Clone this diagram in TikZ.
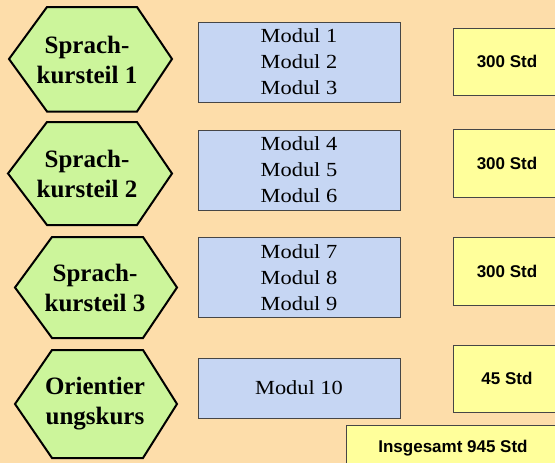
\documentclass[tikz,border=0pt]{standalone}
\usepackage{fontspec}
\setmainfont{Liberation Serif}
\newfontfamily\modfont[FakeStretch=1.12]{Liberation Serif}
\newfontfamily\stdfont{Liberation Sans}
\definecolor{bgc}{RGB}{253,221,170}
\definecolor{hexc}{RGB}{204,245,155}
\definecolor{modc}{RGB}{198,214,243}
\definecolor{stdc}{RGB}{255,255,155}
\definecolor{edgec}{RGB}{70,70,70}
\tikzset{
  hexshape/.style={draw=black, line width=2pt, fill=hexc, line join=miter},
  hextext/.style={align=center, font=\fontsize{25}{30}\selectfont\bfseries, inner sep=0pt},
  modbox/.style={draw=edgec, line width=0.9pt, fill=modc, minimum width=202pt, minimum height=80pt, align=center, inner sep=0pt, font=\modfont\fontsize{20}{26}\selectfont},
  stdbox/.style={draw=edgec, line width=0.9pt, fill=stdc, align=center, inner sep=0pt, font=\stdfont\bfseries\fontsize{17}{20}\selectfont}
}
\begin{document}
\begin{tikzpicture}[x=1pt,y=-1pt]
\fill[bgc] (0,0) rectangle (555,463);
\useasboundingbox (0,0) rectangle (555,463);
% hexagons
\draw[hexshape] (9,59) -- (47,7) -- (137,7) -- (172,59) -- (137,111.5) -- (47,111.5) -- cycle;
\draw[hexshape] (8,173.5) -- (47,122) -- (137,122) -- (172,173.5) -- (137,225) -- (47,225) -- cycle;
\draw[hexshape] (15,287.5) -- (52,237) -- (143,237) -- (177,287.5) -- (143,338) -- (52,338) -- cycle;
\draw[hexshape] (15,404) -- (52,350) -- (143,350) -- (177,404) -- (143,458) -- (52,458) -- cycle;
\node[hextext] (h1) at (87,60) {Sprach-\\kursteil 1};
\node[hextext] (h2) at (87,174) {Sprach-\\kursteil 2};
\node[hextext] (h3) at (95,288) {Sprach-\\kursteil 3};
\node[hextext] (h4) at (95,404) {Orientier\\ungskurs};
% module boxes
\node[modbox] (m1) at (299,62) {Modul 1\\Modul 2\\Modul 3};
\node[modbox] (m2) at (299,170) {Modul 4\\Modul 5\\Modul 6};
\node[modbox] (m3) at (299,277.5) {Modul 7\\Modul 8\\Modul 9};
\node[modbox, minimum height=60pt] (m4) at (299,388) {Modul 10};
% hour boxes
\node[stdbox, minimum width=108pt, minimum height=67pt] (s1) at (507,61.5) {300 Std};
\node[stdbox, minimum width=108pt, minimum height=68pt] (s2) at (507,163) {300 Std};
\node[stdbox, minimum width=108pt, minimum height=68pt] (s3) at (507,271) {300 Std};
\node[stdbox, minimum width=108pt, minimum height=67pt] (s4) at (507,378.5) {45 Std};
\node[stdbox, minimum width=214pt, minimum height=46pt] (tot) at (453,448) {Insgesamt 945 Std};
\end{tikzpicture}
\end{document}
